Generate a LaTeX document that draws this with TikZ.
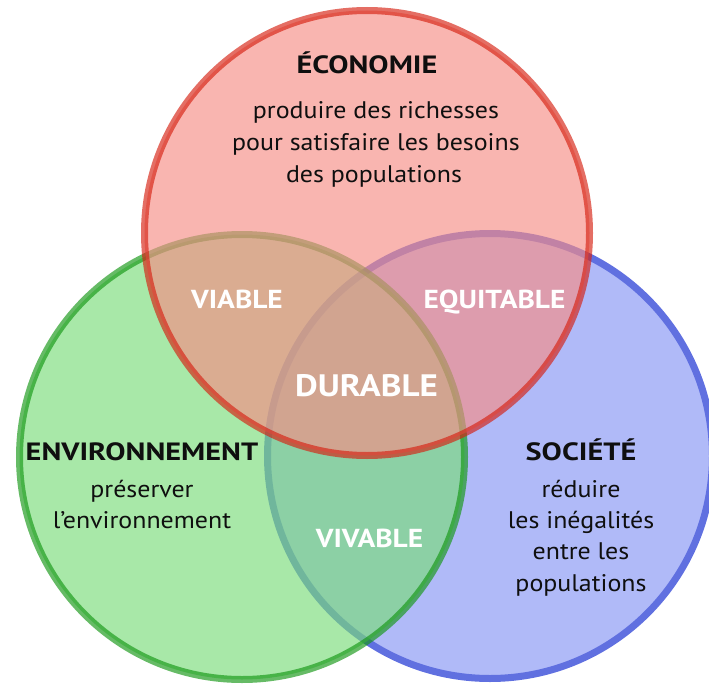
\documentclass[tikz,border=0pt]{standalone}
\usepackage{fontspec}
\setmainfont{PT Sans}
\newfontfamily\titlefont{PT Sans}[FakeStretch=1.21]
\newfontfamily\labfont{PT Sans}[FakeStretch=1.13]
\newfontfamily\bodyfont{PT Sans}[FakeStretch=1.08]
\definecolor{bluefill}{RGB}{176,186,248}
\definecolor{bluedraw}{RGB}{96,112,224}
\definecolor{greenfill}{RGB}{121,220,121}
\definecolor{greendraw}{RGB}{20,151,20}
\definecolor{redfill}{RGB}{246,141,134}
\definecolor{reddraw}{RGB}{214,32,17}
\definecolor{ink}{RGB}{15,15,15}
\tikzset{
  ring/.style={line width=7pt},
  title/.style={font=\titlefont\fontsize{25}{30}\selectfont\bfseries, text=ink, anchor=base, inner sep=0pt},
  body/.style={font=\bodyfont\fontsize{24}{30}\selectfont, text=ink, anchor=base, inner sep=0pt},
  lab/.style={font=\labfont\fontsize{26}{30}\selectfont\bfseries, text=white, anchor=base, inner sep=0pt},
}
\begin{document}
\begin{tikzpicture}[x=1pt,y=-1pt]
\useasboundingbox (0,0) rectangle (709,685);
% circles
\draw[ring, fill=bluefill, draw=bluedraw] (490,456) circle[radius=222.5];
\draw[ring, fill=greenfill, draw=greendraw, opacity=0.65] (242,457) circle[radius=222.5];
\draw[ring, fill=redfill, draw=reddraw, opacity=0.65] (367,233) circle[radius=222.5];
% economy
\node[title] (eco) at (367,73.5) {ÉCONOMIE};
\node[body] (eco1) at (376,118) {produire des richesses};
\node[body] (eco2) at (376,150) {pour satisfaire les besoins};
\node[body] (eco3) at (374,182) {des populations};
% environment
\node[title] (env) at (142,460) {ENVIRONNEMENT};
\node[body] (env1) at (142,497) {préserver};
\node[body] (env2) at (142,528.5) {l’environnement};
% society
\node[title] (soc) at (581,460) {SOCIÉTÉ};
\node[body] (soc1) at (581,497) {réduire};
\node[body] (soc2) at (581,528.3) {les inégalités};
\node[body] (soc3) at (581,559.6) {entre les};
\node[body] (soc4) at (581,591) {populations};
% intersections
\node[lab] (via) at (237,308) {VIABLE};
\node[lab] (equ) at (494.5,308) {EQUITABLE};
\node[lab] (viv) at (369.5,547) {VIVABLE};
\node[lab, font=\labfont\fontsize{31}{36}\selectfont\bfseries] (dur) at (366.5,396) {DURABLE};
\end{tikzpicture}
\end{document}
